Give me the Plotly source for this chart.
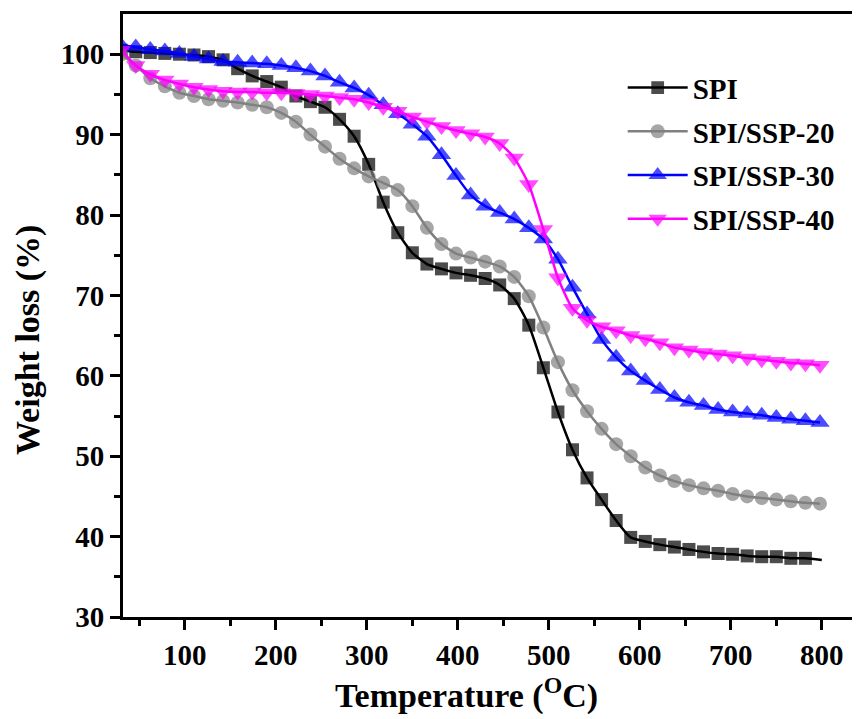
import plotly.graph_objects as go

# Temperature grid of the plotted points (°C)
temp = [30, 46, 62, 78, 94, 110, 126, 142, 158, 174, 190, 206, 222, 238, 254, 270,
        286, 302, 318, 334, 350, 366, 382, 398, 414, 430, 446, 462, 478, 494, 510, 526,
        542, 558, 574, 590, 606, 622, 638, 654, 670, 686, 702, 718, 734, 750, 766, 782, 798]

# SPI: markers up to 782 °C, line runs on to 800 °C
spi_temp = temp[:-1] + [800]
spi = [100.5, 100.3, 100.2, 100.1, 100.0, 99.9, 99.7, 99.3, 98.2, 97.3, 96.6, 95.9, 94.8, 94.1, 93.4, 91.9,
       89.8, 86.3, 81.6, 77.8, 75.3, 73.9, 73.3, 72.8, 72.5, 72.1, 71.3, 69.6, 66.3, 61.0, 55.5, 50.8,
       47.3, 44.6, 42.0, 39.9, 39.4, 39.0, 38.7, 38.4, 38.1, 37.9, 37.8, 37.6, 37.5, 37.5, 37.3, 37.3, 37.1]

ssp20 = [100.0, 98.6, 97.0, 96.0, 95.2, 94.8, 94.4, 94.2, 94.0, 93.7, 93.4, 92.7, 91.6, 90.0, 88.5, 87.0,
         85.8, 84.8, 84.0, 83.1, 81.1, 78.4, 76.4, 75.2, 74.7, 74.2, 73.6, 72.3, 69.9, 66.0, 61.7, 58.2,
         55.6, 53.4, 51.5, 50.0, 48.6, 47.6, 46.9, 46.4, 46.0, 45.7, 45.3, 45.0, 44.8, 44.6, 44.4, 44.2, 44.1]

ssp30 = [101.1, 100.9, 100.6, 100.4, 100.1, 99.7, 99.4, 99.1, 99.0, 98.9, 98.8, 98.6, 98.3, 97.9, 97.3, 96.5,
         95.8, 94.9, 93.7, 92.6, 91.3, 89.8, 87.5, 84.9, 82.5, 81.1, 80.3, 79.5, 78.4, 77.0, 74.5, 71.0,
         67.7, 64.5, 62.3, 60.6, 59.4, 58.3, 57.3, 56.7, 56.3, 55.8, 55.5, 55.3, 55.1, 54.8, 54.6, 54.4, 54.2]

ssp40 = [100.5, 98.6, 97.5, 96.8, 96.3, 95.9, 95.6, 95.4, 95.3, 95.3, 95.2, 95.2, 95.1, 95.0, 94.8, 94.6,
         94.4, 94.0, 93.4, 92.9, 92.2, 91.6, 91.0, 90.5, 90.1, 89.7, 88.9, 87.1, 83.8, 78.2, 72.2, 68.4,
         66.9, 66.1, 65.6, 65.0, 64.6, 64.1, 63.5, 63.2, 62.9, 62.7, 62.5, 62.2, 62.0, 61.8, 61.6, 61.5, 61.3]

names = ["SPI", "SPI/SSP-20", "SPI/SSP-30", "SPI/SSP-40"]
colors = ["#000000", "#808080", "#0000FF", "#FF00FF"]
symbols = ["square", "circle", "triangle-up", "triangle-down"]

x_ticks = [100, 200, 300, 400, 500, 600, 700, 800]
y_ticks = [30, 40, 50, 60, 70, 80, 90, 100]

FONT = "Liberation Serif, Times New Roman, serif"

fig = go.Figure()
series = [(spi_temp, spi), (temp, ssp20), (temp, ssp30), (temp, ssp40)]
sizes = [13, 14, 17, 17]
for i, ((xs, ys), nm, c, s, sz) in enumerate(zip(series, names, colors, symbols, sizes)):
    msize = [sz] * len(xs)
    if i == 0:
        msize[-1] = 0
    fig.add_trace(go.Scatter(
        x=xs, y=ys, name=nm, mode="lines+markers",
        line=dict(color=c, width=2.5, shape="spline", smoothing=0.6),
        marker=dict(symbol=s, color=c, size=msize, line=dict(width=0)),
        legendgroup=nm,
    ))

axis_font = dict(family=FONT, size=29, color="black", weight="bold")

# plot area: left 123, top 14, width 737, height 603 (page has an 8px body margin)
fig.update_layout(
    width=852, height=711,
    margin=dict(l=115, r=0, t=6, b=102),
    paper_bgcolor="white", plot_bgcolor="white",
    showlegend=True,
    legend=dict(
        x=0.678, y=0.92, xanchor="left", yanchor="top",
        font=dict(family=FONT, size=29, color="black", weight="bold"),
        bgcolor="rgba(0,0,0,0)", borderwidth=0,
        traceorder="grouped", tracegroupgap=3, itemwidth=60,
    ),
    xaxis=dict(
        range=[32, 842], tickmode="array", tickvals=x_ticks,
        ticks="outside", ticklen=10, tickwidth=2.5, tickcolor="black",
        showline=True, linewidth=3, linecolor="black", mirror=True,
        showgrid=False, zeroline=False, tickfont=axis_font,
        minor=dict(tickmode="array", tickvals=[50, 150, 250, 350, 450, 550, 650, 750],
                   ticks="outside", ticklen=6, tickwidth=2.5, tickcolor="black", showgrid=False),
    ),
    yaxis=dict(
        range=[30, 105], tickmode="array", tickvals=y_ticks,
        ticks="outside", ticklen=10, tickwidth=2.5, tickcolor="black",
        showline=True, linewidth=3, linecolor="black", mirror=False,
        showgrid=False, zeroline=False, tickfont=axis_font,
        minor=dict(tickmode="array", tickvals=[35, 45, 55, 65, 75, 85, 95],
                   ticks="outside", ticklen=6, tickwidth=2.5, tickcolor="black", showgrid=False),
    ),
    annotations=[
        dict(text="Temperature (<sup>O</sup>C)", xref="paper", yref="paper",
             x=(466 - 123) / 737, y=(617 - 693) / 603, xanchor="center", yanchor="middle",
             showarrow=False, font=dict(family=FONT, size=34, color="black", weight="bold")),
        dict(text="Weight loss (%)", xref="paper", yref="paper", textangle=-90,
             x=(28 - 123) / 737, y=(617 - 340) / 603, xanchor="center", yanchor="middle",
             showarrow=False, font=dict(family=FONT, size=34, color="black", weight="bold")),
    ],
)

fig.write_html("out.html")
